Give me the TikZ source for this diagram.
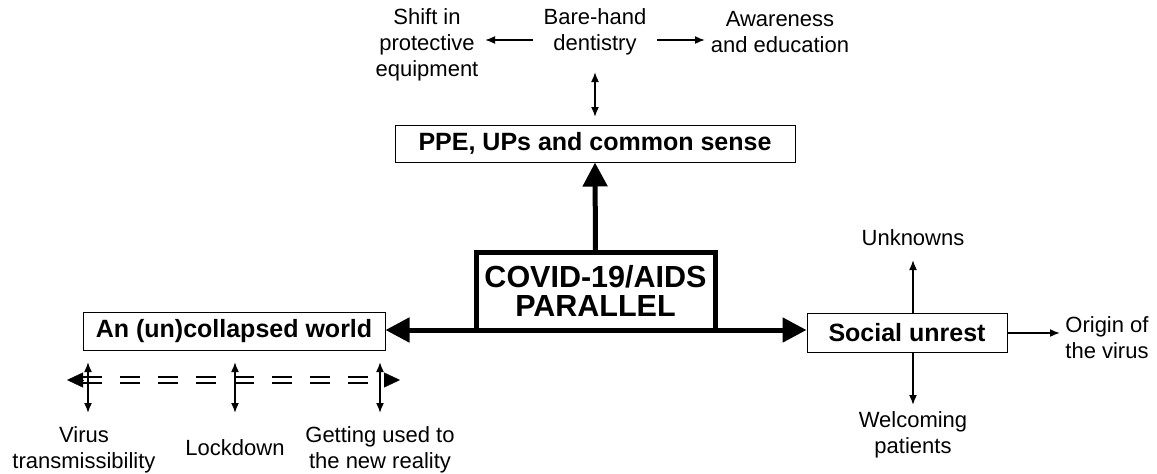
\documentclass[tikz,border=0pt]{standalone}
\usepackage{fontspec}
\setmainfont{Liberation Sans}
\usetikzlibrary{arrows.meta}
\begin{document}
\begin{tikzpicture}[x=1pt,y=-1pt,
  lbl/.style={align=center,font=\fontsize{22}{26}\selectfont,inner sep=1pt},
  box/.style={draw,line width=1pt,font=\bfseries\fontsize{25}{28}\selectfont,inner sep=0pt},
  thinarr/.style={line width=1.7pt,-{Latex[length=10pt,width=8pt]}},
  dblarr/.style={line width=1.7pt,{Latex[length=10pt,width=8pt]}-{Latex[length=10pt,width=8pt]}},
  bigarr/.style={line width=5pt,-{Triangle[length=24pt,width=24pt]}},
  dashdbl/.style={line width=2pt,double=white,double distance=3.5pt,dash pattern=on 20pt off 18pt},
  endhead/.style={line width=0.4pt,-{Triangle[length=16pt,width=15pt]}}
]
\useasboundingbox (0,0) rectangle (1157,474);

% boxes
\node[box,minimum width=400pt,minimum height=37pt] (ppe) at (595,143.5) {PPE, UPs and common sense};
\node[box,minimum width=302pt,minimum height=38pt] (an) at (234,331) {An (un)collapsed world};
\node[box,minimum width=200pt,minimum height=39pt] (soc) at (907,333) {Social unrest};
\node[draw,line width=5pt,outer sep=0pt,inner sep=0pt,minimum width=239pt,minimum height=78pt,
      align=center,font=\bfseries\fontsize{30.5}{29}\selectfont] (covid) at (595.5,291) {COVID-19/AIDS\\PARALLEL};

% labels
\node[lbl] (bare) at (595,32) {Bare-hand\\dentistry};
\node[lbl] (shift) at (427,45) {Shift in\\protective\\equipment};
\node[lbl] (aware) at (780,32) {Awareness\\and education};
\node[lbl] (unk) at (913,238) {Unknowns};
\node[lbl] (welc) at (913,435) {Welcoming\\patients};
\node[lbl] (orig) at (1107,338) {Origin of\\the virus};
\node[lbl] (virus) at (84,450) {Virus\\transmissibility};
\node[lbl] (lock) at (235,448) {Lockdown};
\node[lbl] (get) at (380,450) {Getting used to\\the new reality};

% arrow end points
\coordinate (b1) at (533,40);
\coordinate (b2) at (485,40);
\coordinate (b3) at (657,40);
\coordinate (b4) at (705,40);
\coordinate (b5) at (595,72);
\coordinate (b6) at (595,117);
\coordinate (u1) at (913,260);
\coordinate (u2) at (913,405);
\coordinate (o1) at (1060,333);
\coordinate (d1) at (67,380);
\coordinate (d2) at (400,380);
\coordinate (v1t) at (88,362);
\coordinate (v1b) at (88,413);
\coordinate (v2t) at (235,362);
\coordinate (v2b) at (235,413);
\coordinate (v3t) at (380,362);
\coordinate (v3b) at (380,413);

% thick arrows
\draw[bigarr] (covid.north) -- (ppe.south);
\draw[bigarr] (covid.south) -- (covid.south -| an.east);
\draw[bigarr] (covid.south) -- (covid.south -| soc.west);

% top thin arrows
\draw[thinarr] (b1) -- (b2);
\draw[thinarr] (b3) -- (b4);
\draw[dblarr] (b5) -- (b6);

% social unrest arrows
\draw[thinarr] (u1 |- soc.north) -- (u1);
\draw[thinarr] (u2 |- soc.south) -- (u2);
\draw[thinarr] (soc.east |- o1) -- (o1);

% double dashed timeline
\draw[dashdbl] ([xshift=15pt]d1) -- ([xshift=-15pt]d2);
\draw[endhead] ([xshift=16pt]d1) -- (d1);
\draw[endhead] ([xshift=-16pt]d2) -- (d2);
\draw[dblarr] (v1t) -- (v1b);
\draw[dblarr] (v2t) -- (v2b);
\draw[dblarr] (v3t) -- (v3b);
\end{tikzpicture}
\end{document}
